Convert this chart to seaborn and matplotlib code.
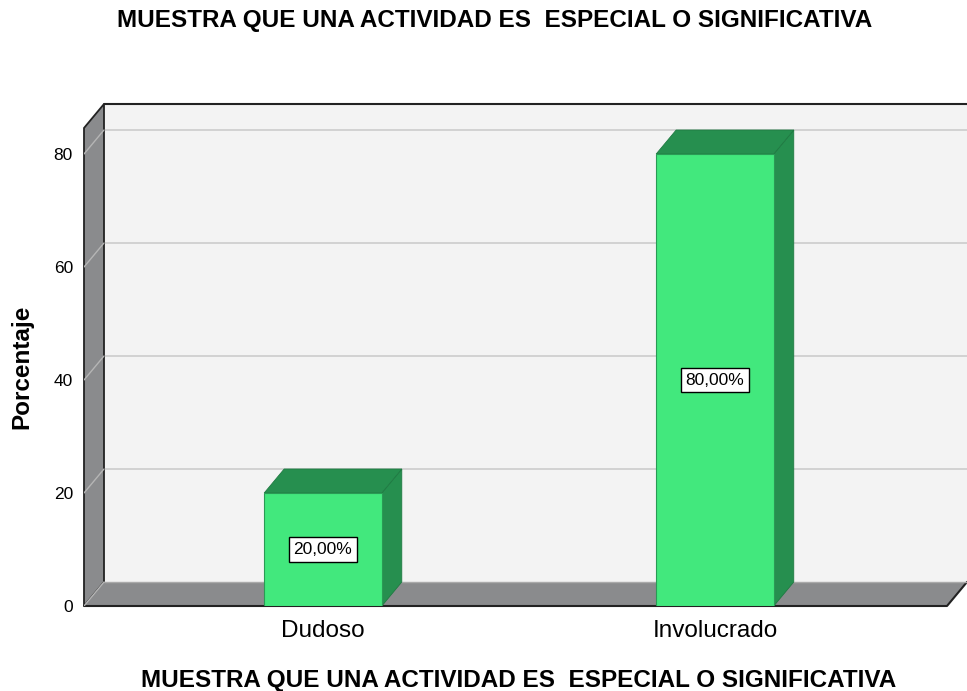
import matplotlib
matplotlib.use("Agg")
import matplotlib.pyplot as plt
import seaborn as sns
from matplotlib.patches import Polygon

categories = ["Dudoso", "Involucrado"]
values = [20.0, 80.0]
labels = ["20,00%", "80,00%"]
yticks = [0, 20, 40, 60, 80]
title = "MUESTRA QUE UNA ACTIVIDAD ES  ESPECIAL O SIGNIFICATIVA"
ylabel = "Porcentaje"

sns.set_theme(style="white")
plt.rcParams['font.family'] = ['Liberation Sans', 'DejaVu Sans']
plt.rcParams['text.color'] = 'black'
plt.rcParams['axes.labelcolor'] = 'black'
plt.rcParams['xtick.color'] = 'black'
plt.rcParams['ytick.color'] = 'black'

W, H = 967, 691
fig = plt.figure(figsize=(W / 100, H / 100), dpi=100)
ax = fig.add_axes([84 / W, (H - 606) / H, (W - 84) / W, (606 - 104) / H])

front_c = "#42e87d"
dark_c = "#268f4f"
gray_c = "#8a8b8d"
wall_c = "#f3f3f3"
edge_c = "#222222"

bw = 0.3
sns.barplot(x=categories, y=values, width=bw, color=front_c, saturation=1,
            edgecolor="#2a9a55", linewidth=0.8, ax=ax, zorder=5)

xmin, xmax = -0.6097, 1.643
ymax = 88.85
dx = 20 / 392
dy = 24 / 5.65
ax.set_xlim(xmin, xmax)
ax.set_ylim(0, ymax)
for s in ax.spines.values():
    s.set_visible(False)

xfr = xmax - dx  # front floor right edge
# back wall
ax.add_patch(Polygon([(xmin + dx, dy), (xmin + dx, ymax), (xmax + 0.2, ymax), (xmax + 0.2, dy)],
                     closed=True, facecolor=wall_c, edgecolor="none", zorder=0))
ax.plot([xmin + dx, xmax], [ymax, ymax], color=edge_c, lw=1.5, zorder=1, clip_on=False)
# gridlines
for t in yticks[1:]:
    ax.plot([xmin + dx, xmax], [t + dy, t + dy], color="#cccccc", lw=1.2, zorder=1)
# side wall
ax.add_patch(Polygon([(xmin, 0), (xmin, ymax - dy), (xmin + dx, ymax), (xmin + dx, dy)],
                     closed=True, facecolor=gray_c, edgecolor=edge_c, lw=1.3, zorder=2, clip_on=False))
# floor
ax.add_patch(Polygon([(xmin, 0), (xfr, 0), (xmax, dy), (xmin + dx, dy)],
                     closed=True, facecolor=gray_c, edgecolor="none", zorder=2, clip_on=False))
ax.plot([xmin, xfr, xmax], [0, 0, dy], color=edge_c, lw=1.5, zorder=2, clip_on=False)
ax.plot([xmin + dx, xmax], [dy, dy], color="#aaaaaa", lw=1.0, zorder=2)
for t in yticks:
    ax.plot([xmin, xmin + dx], [t, t + dy], color="#b5b5b5", lw=1.0, zorder=3)

# bar 3D faces
for i, v in enumerate(values):
    l, r = i - bw / 2, i + bw / 2
    ax.add_patch(Polygon([(r, 0), (r, v), (r + dx, v + dy), (r + dx, dy)], closed=True,
                         facecolor=dark_c, edgecolor="#1f7a42", lw=0.6, zorder=4))
    ax.add_patch(Polygon([(l, v), (r, v), (r + dx, v + dy), (l + dx, v + dy)], closed=True,
                         facecolor=dark_c, edgecolor="#1f7a42", lw=0.6, zorder=4))
    ax.text(i, v / 2, labels[i], ha="center", va="center", fontsize=12.5, color="black",
            zorder=7, bbox=dict(boxstyle="square,pad=0.28", facecolor="white", edgecolor="black", lw=1))

ax.set_yticks(yticks)
ax.set_yticklabels([str(t) for t in yticks], fontsize=12.5)
ax.tick_params(axis="y", length=0, pad=8)
ax.tick_params(axis="x", length=0, labelsize=17.5, pad=10)
ax.set_xlabel(title, fontsize=17.5, fontweight="bold")
ax.xaxis.label.set_va("center")
ax.xaxis.set_label_coords((519 - 84) / (W - 84), -(680 - 606) / (606 - 104))
ax.set_ylabel(ylabel, fontsize=17.5, fontweight="bold")
ax.yaxis.label.set_va("center")
ax.yaxis.set_label_coords((22 - 84) / (W - 84), (606 - 367) / (606 - 104))
fig.text(495 / W, 1 - 20 / H, title, ha="center", va="center", fontsize=17.5, fontweight="bold")

fig.savefig("out.png", dpi=100)
